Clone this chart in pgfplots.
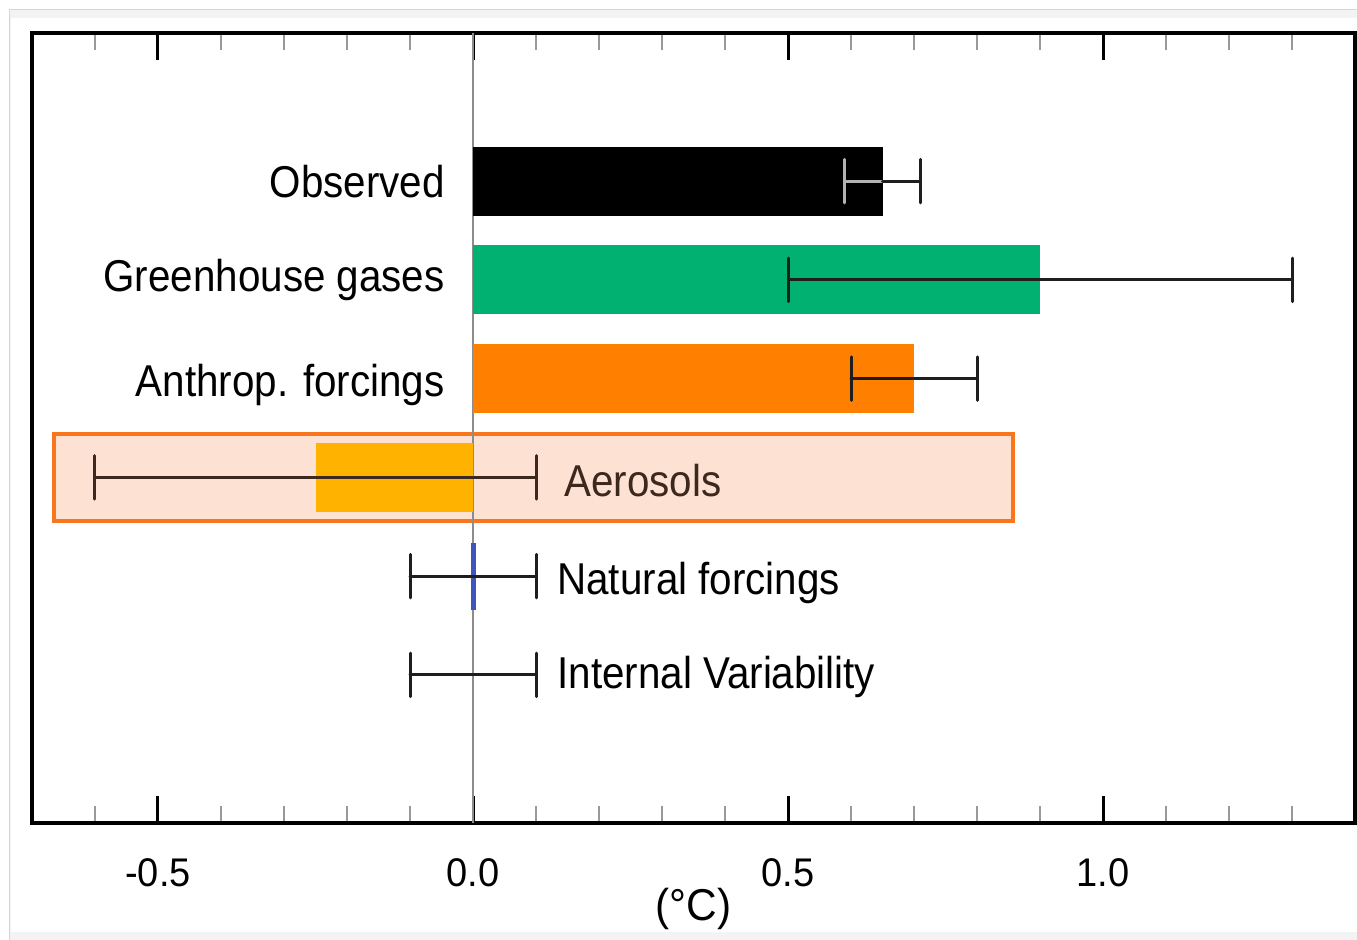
\documentclass[border=0pt]{standalone}
\usepackage{pgfplots}
\pgfplotsset{compat=1.18}
\usepackage{fontspec}
\setmainfont{Liberation Sans}
\newfontfamily\labfont{Liberation Sans}[FakeStretch=0.905]
\newfontfamily\tickfont{Liberation Sans}[FakeStretch=0.95]
\newcommand\lf{\labfont\fontsize{22.3pt}{26pt}\selectfont}
\definecolor{ghg}{RGB}{0,177,114}
\definecolor{anth}{RGB}{255,128,0}
\definecolor{aero}{RGB}{255,179,0}
\definecolor{peach}{RGB}{253,226,212}
\definecolor{rectorange}{RGB}{250,118,28}
\definecolor{natblue}{RGB}{64,84,190}
\definecolor{errc}{RGB}{30,30,30}
\definecolor{brownish}{RGB}{60,40,28}
\definecolor{framegray}{RGB}{243,243,243}
\definecolor{frameline}{RGB}{214,214,214}
\begin{document}
\begin{tikzpicture}
\useasboundingbox (-16pt,-58.5pt) rectangle (662.5pt,411.5pt);
\fill[framegray, draw=frameline, line width=0.5pt] (-11pt,406.5pt) rectangle (663pt,-59pt);
\fill[white] (-10.6pt,402.5pt) rectangle (663pt,-54.5pt);
\begin{axis}[
  at={(0pt,0pt)}, anchor=south west,
  scale only axis, width=661.5pt, height=395pt,
  xmin=-0.7, xmax=1.4, ymin=-0.5, ymax=7.5,
  clip=false,
  ytick=\empty,
  xtick={-0.5,0,0.5,1}, xticklabels={-0.5,0.0,0.5,1.0},
  minor xtick={-0.6,-0.4,-0.3,-0.2,-0.1,0.1,0.2,0.3,0.4,0.6,0.7,0.8,0.9,1.1,1.2,1.3},
  tick align=inside,
  major tick length=13.5pt, minor tick length=8.5pt,
  major tick style={black, line width=1.5pt},
  minor tick style={black!40, line width=1pt},
  axis line style={line width=1.75pt},
  xticklabel style={font=\tickfont\fontsize{20pt}{24pt}\selectfont, anchor=north, inner sep=0pt, yshift=-17.5pt},
  xlabel={(°C)},
  xlabel style={at={(axis description cs:0.5,0)}, anchor=center, yshift=-42.75pt, font=\tickfont\fontsize{22.3pt}{26pt}\selectfont},
]
% highlight box around Aerosols
\addplot[fill=peach, draw=rectorange, line width=2pt] coordinates {(-0.665,2.558) (0.857,2.558) (0.857,3.439) (-0.665,3.439)} -- cycle;
% zero line
\addplot[black!45, line width=0.75pt] coordinates {(0,-0.5) (0,7.5)};
% bars
\addplot[xbar, bar width=0.70, bar shift=0pt, fill=black, draw=none] coordinates {(0.65,6)};
\addplot[xbar, bar width=0.70, bar shift=0pt, fill=ghg, draw=none] coordinates {(0.90,5)};
\addplot[xbar, bar width=0.70, bar shift=0pt, fill=anth, draw=none] coordinates {(0.70,4)};
\addplot[xbar, bar width=0.70, bar shift=0pt, fill=aero, draw=none] coordinates {(-0.25,3)};
% natural forcings (value ~0)
\addplot[natblue, line width=2.5pt] coordinates {(0,1.657) (0,2.335)};
% error bars
\addplot[black!30, line width=1.5pt, line cap=round, unbounded coords=jump] coordinates {
 (0.59,6) (0.65,6) (nan,nan) (0.59,5.78) (0.59,6.22)};
\addplot[errc, line width=1.5pt, line cap=round, unbounded coords=jump] coordinates {
 (0.65,6) (0.71,6) (nan,nan) (0.71,5.78) (0.71,6.22)};
\addplot[errc, line width=1.5pt, line cap=round, unbounded coords=jump] coordinates {
 (0.5,5) (1.3,5) (nan,nan) (0.5,4.78) (0.5,5.22) (nan,nan) (1.3,4.78) (1.3,5.22)
 (nan,nan) (0.6,4) (0.8,4) (nan,nan) (0.6,3.78) (0.6,4.22) (nan,nan) (0.8,3.78) (0.8,4.22)
 (nan,nan) (-0.1,2) (0.1,2) (nan,nan) (-0.1,1.78) (-0.1,2.22) (nan,nan) (0.1,1.78) (0.1,2.22)
 (nan,nan) (-0.1,1) (0.1,1) (nan,nan) (-0.1,0.78) (-0.1,1.22) (nan,nan) (0.1,0.78) (0.1,1.22)};
\addplot[brownish, line width=1.5pt, line cap=round, unbounded coords=jump] coordinates {
 (-0.6,3) (0.1,3) (nan,nan) (-0.6,2.78) (-0.6,3.22) (nan,nan) (0.1,2.78) (0.1,3.22)};
% labels
\node[anchor=base east, inner sep=0pt, font=\lf, yshift=-8.4pt] at (axis cs:-0.0444,6) {Observed};
\node[anchor=base east, inner sep=0pt, font=\lf, yshift=-5.9pt] at (axis cs:-0.0444,5) {Greenhouse gases};
\node[anchor=base east, inner sep=0pt, font=\lf, yshift=-8.8pt] at (axis cs:-0.0444,4) {Anthrop. forcings};
\node[anchor=base west, inner sep=0pt, font=\lf, text=brownish, yshift=-9.7pt] at (axis cs:0.1444,3) {Aerosols};
\node[anchor=base west, inner sep=0pt, font=\lf, yshift=-9.4pt] at (axis cs:0.1333,2) {Natural forcings};
\node[anchor=base west, inner sep=0pt, font=\lf, yshift=-6.9pt] at (axis cs:0.1333,1) {Internal Variability};
\end{axis}
\end{tikzpicture}
\end{document}
